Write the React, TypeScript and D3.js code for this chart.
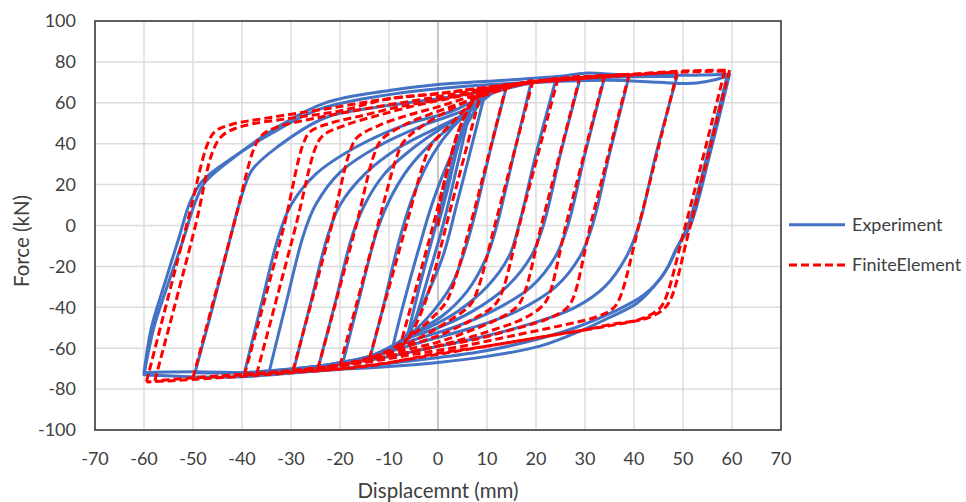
import React from "react";
import * as d3 from "d3";

type P = [number, number];

// ---- axis ticks ----
const xTicks = [-70, -60, -50, -40, -30, -20, -10, 0, 10, 20, 30, 40, 50, 60, 70];
const yTicks = [-100, -80, -60, -40, -20, 0, 20, 40, 60, 80, 100];
const seriesNames = ["Experiment", "FiniteElement"];

// ---- Experiment loops (displacement mm, force kN): +peak -> unloading -> -peak -> reloading -> +peak ----
const expInitial: P[] = [[0, 0], [2, 18], [4, 38], [6.5, 55]];
const exp06: P[] = [[6.5, 56], [4, 30], [1, 0], [-2, -25], [-4.5, -45], [-6.5, -57], [-4, -32], [-1, -5], [2, 22], [4.5, 44], [6.5, 56]];
const exp10: P[] = [[9.5, 64], [7, 40], [4, 12], [1, -15], [-3, -38], [-6, -52], [-9.5, -62], [-7, -38], [-4, -12], [-1, 12], [3, 36], [6.5, 52], [9.5, 64]];
const exp15: P[] = [[14, 68], [11, 40], [8, 10], [6, -8], [3, -28], [-1, -42], [-6, -54], [-10, -61], [-14, -66], [-11, -38], [-8, -8], [-5, 15], [-1, 35], [3, 48], [6.5, 56], [9, 63], [14, 68]];
const exp20: P[] = [[19, 70], [15.5, 35], [12, 0], [10, -15], [6, -32], [1, -44], [-6, -54], [-12, -63], [-19.5, -68], [-16, -35], [-12.5, -3], [-10, 12], [-6, 28], [-1, 41], [4, 51], [6.5, 56], [10, 64], [19, 70]];
const exp25: P[] = [[24, 71], [20, 35], [16.5, 0], [14.5, -15], [10, -30], [4, -42], [-2, -50], [-6, -54], [-12, -63], [-18, -67], [-24.5, -70], [-21, -38], [-17.5, -5], [-15, 10], [-11, 25], [-5, 38], [1, 48], [6.5, 56], [10, 64], [16, 69], [24, 71]];
const exp30: P[] = [[29, 72], [25, 35], [21.5, 0], [19, -15], [14, -30], [7, -42], [0, -50], [-6, -55], [-14, -64], [-22, -68], [-29.5, -71], [-26, -38], [-22.5, -5], [-20, 10], [-15, 25], [-8, 38], [0, 48], [6.5, 56], [12, 66], [20, 70], [29, 72]];
const exp35: P[] = [[34, 72.5], [30, 35], [26.5, 0], [24, -15], [19, -30], [11, -42], [3, -50], [-5, -56], [-14, -64], [-25, -69], [-34.5, -72], [-31, -38], [-27.5, -5], [-25, 10], [-20, 26], [-12, 39], [-3, 49], [6, 57], [12, 66], [22, 71], [34, 72.5]];
const exp40: P[] = [[39, 73], [35, 35], [31.5, 0], [29, -15], [24, -30], [16, -42], [7, -50], [-2, -56], [-12, -63], [-25, -69], [-39.5, -72], [-36, -38], [-32.5, -5], [-30, 10], [-25, 25], [-17, 38], [-7, 49], [3, 56], [10, 64], [20, 70], [39, 73]];
const exp50: P[] = [[48.8, 73], [44.5, 35], [41, 0], [38.5, -15], [34, -30], [28, -40], [19, -48], [8, -55], [-2, -60], [-12, -65], [-25, -69], [-40, -72], [-49.6, -72], [-46, -40], [-42.5, -7], [-40, 15], [-38, 27], [-33, 38], [-23, 52.7], [-12, 58], [0, 62], [8, 65], [15, 69], [30, 72], [48.8, 73]];
const exp60a: P[] = [[59.5, 74], [55.5, 35], [51.5, 0], [49, -10], [47, -20], [44, -30], [40.6, -38], [35, -45], [29.6, -51], [20.8, -59], [10, -64], [0, -67], [-10, -69], [-24, -71], [-40, -74], [-50, -74], [-60, -73], [-58, -50], [-55.3, -30], [-52, -7], [-49.6, 11], [-47.6, 21], [-41.5, 33.6], [-33, 47.8], [-23, 60], [-10, 66], [0, 69], [10, 70.5], [25, 73], [30, 74.5], [38, 73.7], [50, 73.5], [59.5, 74]];
const exp60b: P[] = [[59, 73], [55, 35], [51, 0], [48.5, -12], [46, -24], [42, -34], [36, -42], [28, -50], [18, -57], [8, -62], [-5, -66], [-20, -70], [-35, -72], [-50, -71.5], [-60, -72], [-58.5, -50], [-56, -30], [-53, -7], [-50.5, 12], [-48, 22], [-42, 33], [-34, 45], [-24, 57], [-10, 64], [5, 68], [20, 70], [35, 71], [45, 70], [52, 69.5], [56, 71], [59, 73]];

// ---- Finite element loops ----
const feInitial: P[] = [[0, 0], [0.5, 12], [2, 28], [4, 45], [6.5, 60]];
const fe10: P[] = [[9, 67], [2, 3], [-1, -25], [-3, -40], [-5.5, -53], [-8, -61], [-1, 0], [2, 28], [4, 45], [6, 56], [7.5, 62], [9, 67]];
const fe15: P[] = [[14, 69], [6.8, 2], [3, -30], [1.5, -38], [-2, -47], [-6, -55], [-10, -61], [-14, -65], [-6.5, 0], [-3, 30], [-1.5, 39], [2, 48], [6, 58], [9, 64], [14, 69]];
const fe20: P[] = [[19.4, 71], [11.8, 2], [8, -32], [6.5, -39], [2, -47], [-3, -54], [-8, -60], [-13, -64.5], [-20, -68.5], [-12.3, 0], [-8.5, 33], [-7, 41], [-3, 49], [2, 56], [7, 62], [12, 66.5], [19.4, 71]];
const fe25: P[] = [[24.5, 72], [16.8, 2], [13, -33], [11.5, -39], [7, -46], [1, -53], [-5, -58], [-10, -62], [-16, -66], [-24.5, -70], [-16.7, 0], [-13, 35], [-11.5, 42], [-7, 49], [-1, 55], [5, 60], [10, 64], [16, 68.5], [24.5, 72]];
const fe30: P[] = [[29, 73], [21.3, 2], [17.5, -34], [16, -40], [12, -46], [6, -52], [0, -57], [-7, -61], [-15, -66], [-22, -69], [-29.6, -71], [-21.7, 0], [-18, 36], [-16.5, 43], [-12, 49], [-6, 54], [0, 58], [6, 62.5], [12, 66], [19, 70], [29, 73]];
const fe35: P[] = [[34, 73.5], [26.3, 2], [22.5, -35], [21, -40], [17, -46], [10, -52], [3, -57], [-4, -61], [-12, -65], [-22, -69], [-37, -72.5], [-29, 0], [-25, 38], [-23.5, 44], [-19, 49], [-12, 54], [-4, 59], [3, 62.5], [10, 66], [20, 70.5], [34, 73.5]];
const fe40: P[] = [[39, 74], [31.4, 3], [27.5, -36], [26, -41], [22, -46], [15, -51], [7, -56], [0, -59], [-6, -62], [-15, -66], [-25, -70], [-39.5, -73], [-31.4, 0], [-27.5, 40], [-26, 46], [-22, 50], [-15, 54], [-8, 58], [0, 61.5], [7, 65], [15, 68.5], [25, 71.5], [39, 74]];
const fe50: P[] = [[48.8, 75], [41.2, 2], [37, -36], [35.5, -41], [32, -45], [25, -49], [15, -54], [5, -59], [-5, -63], [-15, -67], [-25, -70], [-35, -72], [-44, -73.5], [-50, -74.5], [-41.5, 2], [-37.5, 38], [-36, 44], [-33, 48], [-25, 52.5], [-15, 57], [-5, 61], [5, 65], [15, 69], [30, 72], [48.8, 75]];
const fe60a: P[] = [[58.5, 75.5], [50.5, 0], [46, -38], [44.5, -42], [41, -46], [35, -48.5], [30, -51], [20, -55], [10, -59], [0, -62.5], [-10, -67], [-20, -70], [-30, -71.5], [-40, -73], [-50, -74.5], [-57.8, -76], [-49.5, 0], [-46, 36], [-44, 44], [-40, 48.5], [-30, 52.5], [-20, 56], [-10, 62], [0, 64.5], [6.5, 66.5], [15, 69], [21.6, 70.5], [30, 72], [40, 74], [50, 75], [58.5, 75.5]];
const fe60b: P[] = [[59.5, 76], [51.5, 0], [47.5, -36], [46, -41], [43, -45], [35, -49], [25, -53], [15, -57], [5, -61], [-5, -65], [-15, -69], [-30, -72], [-45, -74.5], [-55, -76], [-59.5, -76.5], [-51, 3], [-47, 40], [-45.5, 46], [-42, 49.5], [-35, 52.5], [-23, 57], [-10, 62], [0, 64.5], [10, 67.5], [20, 70.5], [30, 72.5], [40, 74], [50, 75.5], [59.5, 76]];

const expLoops = [expInitial, exp06, exp10, exp15, exp20, exp25, exp30, exp35, exp40, exp50, exp60b, exp60a];
const feLoops = [feInitial, fe10, fe15, fe20, fe25, fe30, fe35, fe40, fe50, fe60a, fe60b];

const W = 966;
const H = 502;
const plot = { left: 95, right: 781, top: 21, bottom: 430 };
const BLUE = "#4472C4";
const RED = "#FF0000";
const FONT = "Lato, 'Open Sans', sans-serif";
const TEXT = "#404040";

// split a loop at its negative peak (leftmost point) so the peaks stay sharp
function branches(loop: P[]): P[][] {
  const k = d3.minIndex(loop, (d) => d[0]);
  if (k <= 0 || k >= loop.length - 1) return [loop];
  return [loop.slice(0, k + 1), loop.slice(k)];
}

export default function App() {
  const x = d3.scaleLinear().domain([-70, 70]).range([plot.left, plot.right]);
  const y = d3.scaleLinear().domain([-100, 100]).range([plot.bottom, plot.top]);
  const line = d3
    .line<P>()
    .x((d) => x(d[0]))
    .y((d) => y(d[1]))
    .curve(d3.curveCatmullRom.alpha(0.5));

  const pathOf = (loop: P[]) => branches(loop).map((b) => line(b) || "").join("");

  return (
    <svg
      width={W}
      height={H}
      style={{ position: "absolute", left: 0, top: 0, background: "#fff" }}
      fontFamily={FONT}
    >
      <rect x={0} y={0} width={W} height={H} fill="#fff" />
      {xTicks.map((t) => (
        <line
          key={"gx" + t}
          x1={x(t)}
          x2={x(t)}
          y1={plot.top}
          y2={plot.bottom}
          stroke={t === 0 ? "#b4b4b4" : "#dcdcdc"}
          strokeWidth={1.5}
        />
      ))}
      {yTicks.map((t) => (
        <line
          key={"gy" + t}
          x1={plot.left}
          x2={plot.right}
          y1={y(t)}
          y2={y(t)}
          stroke="#dcdcdc"
          strokeWidth={1.5}
        />
      ))}
      <g fill="none" stroke={BLUE} strokeWidth={3} strokeLinejoin="round" strokeLinecap="round">
        {expLoops.map((l, i) => (
          <path key={"e" + i} d={pathOf(l)} />
        ))}
      </g>
      <g fill="none" stroke={RED} strokeWidth={3} strokeDasharray="8 4" strokeLinejoin="round">
        {feLoops.map((l, i) => (
          <path key={"f" + i} d={pathOf(l)} />
        ))}
      </g>
      <rect
        x={plot.left}
        y={plot.top}
        width={plot.right - plot.left}
        height={plot.bottom - plot.top}
        fill="none"
        stroke="#333"
        strokeWidth={1.5}
      />
      {yTicks.map((t) => (
        <text key={"ty" + t} x={76} y={y(t)} dy="0.35em" textAnchor="end" fontSize={18} fill={TEXT}>
          {t}
        </text>
      ))}
      {xTicks.map((t) => (
        <text key={"tx" + t} x={x(t)} y={465} textAnchor="middle" fontSize={18} fill={TEXT}>
          {t}
        </text>
      ))}
      <text x={(plot.left + plot.right) / 2} y={498} textAnchor="middle" fontSize={20.5} fill={TEXT}>
        Displacemnt (mm)
      </text>
      <text transform="translate(29, 241) rotate(-90)" textAnchor="middle" fontSize={20.5} fill={TEXT}>
        Force (kN)
      </text>
      <line x1={789} x2={845} y1={224.7} y2={224.7} stroke={BLUE} strokeWidth={3} />
      <text x={852} y={224.7} dy="0.35em" fontSize={18} fill={TEXT}>
        {seriesNames[0]}
      </text>
      <line x1={789} x2={845} y1={265} y2={265} stroke={RED} strokeWidth={3} strokeDasharray="8 4" />
      <text x={852} y={265} dy="0.35em" fontSize={18} fill={TEXT}>
        {seriesNames[1]}
      </text>
    </svg>
  );
}
